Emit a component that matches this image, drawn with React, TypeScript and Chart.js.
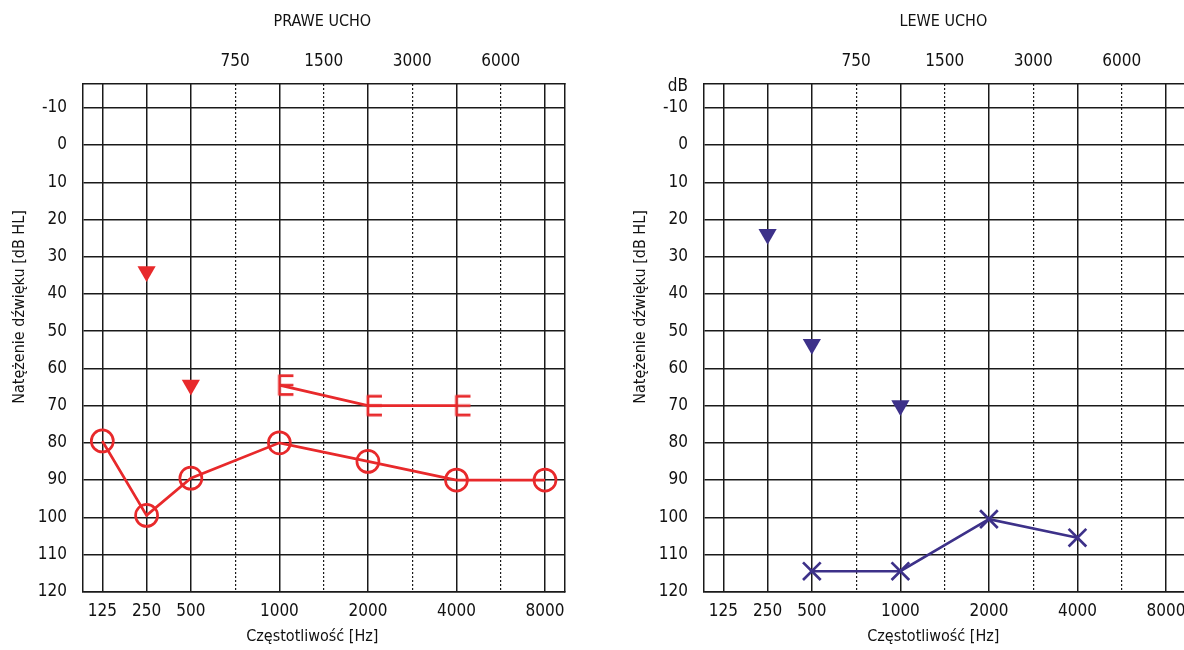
import React, { useEffect, useRef } from 'react';
import { Chart, registerables } from 'chart.js';

Chart.register(...registerables);

const FONT = '"Liberation Sans Narrow", "DejaVu Sans Condensed", "Roboto Condensed", "Liberation Sans", sans-serif';
Chart.defaults.font.family = FONT;
Chart.defaults.color = '#111';

// Frequency axis (evenly spaced positions)
const FREQS = [125, 250, 500, 750, 1000, 1500, 2000, 3000, 4000, 6000, 8000];
const BOTTOM_LABELS = [125, 250, 500, 1000, 2000, 4000, 8000];
const TOP_LABELS = [750, 1500, 3000, 6000];
const DB_TICKS = [-10, 0, 10, 20, 30, 40, 50, 60, 70, 80, 90, 100, 110, 120];

// Right ear (PRAWE UCHO)
const R_AIR_FREQ = [125, 250, 500, 1000, 2000, 4000, 8000];
const R_AIR_DB = [79.5, 99.5, 89.5, 80, 85, 90, 90];
const R_MASK_FREQ = [1000, 2000, 4000];
const R_MASK_DB = [64.5, 70, 70];
const R_BONE_FREQ = [250, 500];
const R_BONE_DB = [34, 64.5];

// Left ear (LEWE UCHO)
const L_AIR_FREQ = [500, 1000, 2000, 4000];
const L_AIR_DB = [114.5, 114.5, 100.5, 105.5];
const L_BONE_FREQ = [250, 500, 1000];
const L_BONE_DB = [24, 53.5, 70];

const RED = '#e8292b';
const BLUE = '#3d3189';
const GRID = '#1a1a1a';

const CANVAS_W = 600;
const CANVAS_H = 650;
const PLOT_LEFT = 82.7;
const PLOT_RIGHT = 565;
const PLOT_TOP = 84;
const PLOT_BOTTOM = 591.7;
const X_MIN = -0.443;
const X_MAX = 10.452;
const Y_MIN = -16.4;
const Y_MAX = 120;

const pts = (freqs: number[], vals: number[]) =>
  freqs.map((f, i) => ({ x: FREQS.indexOf(f), y: vals[i] }));

function makeBracket(color: string) {
  const c = document.createElement('canvas');
  const w = 34, h = 24;
  c.width = w; c.height = h;
  const g = c.getContext('2d')!;
  g.strokeStyle = color;
  g.lineWidth = 2.7;
  const x0 = w / 2, top = h / 2 - 9.3, bot = h / 2 + 9.3, len = 14;
  g.beginPath();
  g.moveTo(x0, top - 1.3); g.lineTo(x0, bot + 1.3);
  g.moveTo(x0, top); g.lineTo(x0 + len, top);
  g.moveTo(x0, h / 2); g.lineTo(x0 + len, h / 2);
  g.moveTo(x0, bot); g.lineTo(x0 + len, bot);
  g.stroke();
  return c;
}

const textPlugin = {
  id: 'audioText',
  afterDraw(chart: any, _args: any, opts: any) {
    const { ctx, chartArea } = chart;
    ctx.save();
    ctx.fillStyle = '#111';
    ctx.textAlign = 'center';
    ctx.textBaseline = 'middle';
    ctx.font = `16px ${FONT}`;
    const cx = (chartArea.left + chartArea.right) / 2;
    ctx.fillText(opts.title, cx - 1.5, 22);
    ctx.fillText(opts.xTitle, cx - 11.5, 637);
    ctx.save();
    ctx.translate(20, 307);
    ctx.rotate(-Math.PI / 2);
    ctx.fillText(opts.yTitle, 0, 0);
    ctx.restore();
    if (opts.unit) {
      ctx.textAlign = 'right';
      ctx.font = `17px ${FONT}`;
      ctx.fillText(opts.unit, chartArea.left - 15.7, 87);
    }
    ctx.restore();
  },
};

const isDotted = (ctx: any) =>
  ctx && ctx.tick && TOP_LABELS.includes(FREQS[ctx.tick.value]);

function buildConfig(title: string, datasets: any[], unit: string) {
  const border = {
    display: true,
    color: GRID,
    width: 1.5,
    dash: (ctx: any) => (isDotted(ctx) ? [2, 2] : []),
  };
  return {
    type: 'line' as const,
    data: { datasets },
    plugins: [textPlugin],
    options: {
      responsive: false,
      animation: false as const,
      devicePixelRatio: 1,
      layout: { padding: 0 },
      plugins: {
        legend: { display: false },
        tooltip: { enabled: false },
        audioText: {
          title,
          xTitle: 'Częstotliwość [Hz]',
          yTitle: 'Natężenie dźwięku [dB HL]',
          unit,
        },
      },
      scales: {
        x: {
          type: 'linear',
          position: 'bottom',
          min: X_MIN,
          max: X_MAX,
          afterBuildTicks: (s: any) => { s.ticks = FREQS.map((_, i) => ({ value: i })); },
          afterFit: (s: any) => { s.height = CANVAS_H - PLOT_BOTTOM; },
          ticks: {
            autoSkip: false,
            maxRotation: 0,
            padding: 10,
            font: { size: 17 },
            color: '#111',
            callback: (v: any) => {
              const f = FREQS[Math.round(v)];
              return BOTTOM_LABELS.includes(f) ? String(f) : '';
            },
          },
          grid: {
            drawTicks: false,
            color: GRID,
            lineWidth: (ctx: any) => (isDotted(ctx) ? 1.2 : 1.5),
          },
          border,
        },
        x2: {
          type: 'linear',
          position: 'top',
          min: X_MIN,
          max: X_MAX,
          afterBuildTicks: (s: any) => { s.ticks = TOP_LABELS.map((f) => ({ value: FREQS.indexOf(f) })); },
          afterFit: (s: any) => { s.height = PLOT_TOP; },
          ticks: {
            autoSkip: false,
            maxRotation: 0,
            padding: 12,
            font: { size: 17 },
            color: '#111',
            callback: (v: any) => String(FREQS[Math.round(v)]),
          },
          grid: { drawOnChartArea: false, drawTicks: false, color: GRID, lineWidth: 1.5 },
          border: { display: true, color: GRID, width: 1.5 },
        },
        y: {
          type: 'linear',
          position: 'left',
          reverse: true,
          min: Y_MIN,
          max: Y_MAX,
          afterBuildTicks: (s: any) => { s.ticks = DB_TICKS.map((v) => ({ value: v })); },
          afterFit: (s: any) => { s.width = PLOT_LEFT; },
          ticks: { padding: 15.7, font: { size: 17 }, color: '#111', autoSkip: false },
          grid: { drawTicks: false, color: GRID, lineWidth: 1.5 },
          border: { display: true, color: GRID, width: 1.5 },
        },
        y2: {
          type: 'linear',
          position: 'right',
          reverse: true,
          min: Y_MIN,
          max: Y_MAX,
          afterBuildTicks: (s: any) => { s.ticks = DB_TICKS.map((v) => ({ value: v })); },
          afterFit: (s: any) => { s.width = CANVAS_W - PLOT_RIGHT; },
          ticks: { display: false },
          grid: { drawOnChartArea: false, drawTicks: false, color: GRID, lineWidth: 1.5 },
          border: { display: true, color: GRID, width: 1.5 },
        },
      },
    },
  };
}

function rightEarDatasets() {
  return [
    {
      data: pts(R_AIR_FREQ, R_AIR_DB),
      xAxisID: 'x', yAxisID: 'y',
      borderColor: RED, borderWidth: 2.7, tension: 0,
      pointStyle: 'circle', pointRadius: 11, pointBorderWidth: 2.7,
      pointBorderColor: RED, pointBackgroundColor: 'rgba(0,0,0,0)',
    },
    {
      data: pts(R_MASK_FREQ, R_MASK_DB),
      xAxisID: 'x', yAxisID: 'y',
      borderColor: RED, borderWidth: 2.7, tension: 0,
      pointStyle: makeBracket(RED), pointRadius: 12,
    },
    {
      data: pts(R_BONE_FREQ, R_BONE_DB),
      xAxisID: 'x', yAxisID: 'y',
      showLine: false,
      pointStyle: 'triangle', pointRotation: 180, pointRadius: 10.5,
      pointBorderWidth: 0, pointBackgroundColor: RED, pointBorderColor: RED,
    },
  ];
}

function leftEarDatasets() {
  return [
    {
      data: pts(L_AIR_FREQ, L_AIR_DB),
      xAxisID: 'x', yAxisID: 'y',
      borderColor: BLUE, borderWidth: 2.7, tension: 0,
      pointStyle: 'crossRot', pointRadius: 12.5, pointBorderWidth: 2.7,
      pointBorderColor: BLUE, pointBackgroundColor: BLUE,
    },
    {
      data: pts(L_BONE_FREQ, L_BONE_DB),
      xAxisID: 'x', yAxisID: 'y',
      showLine: false,
      pointStyle: 'triangle', pointRotation: 180, pointRadius: 10.5,
      pointBorderWidth: 0, pointBackgroundColor: BLUE, pointBorderColor: BLUE,
    },
  ];
}

function Audiogram({ left, title, which, unit }: { left: number; title: string; which: 'R' | 'L'; unit: string }) {
  const ref = useRef<HTMLCanvasElement | null>(null);
  useEffect(() => {
    if (!ref.current) return;
    const ds = which === 'R' ? rightEarDatasets() : leftEarDatasets();
    const chart = new Chart(ref.current, buildConfig(title, ds, unit) as any);
    return () => chart.destroy();
  }, [title, which, unit]);
  return (
    <canvas
      ref={ref}
      width={CANVAS_W}
      height={CANVAS_H}
      style={{ position: 'absolute', left, top: 0, width: CANVAS_W, height: CANVAS_H }}
    />
  );
}

export default function App() {
  return (
    <div style={{ position: 'fixed', left: 0, top: 0, width: 1184, height: 650, overflow: 'hidden', background: '#fff' }}>
      <Audiogram left={0} title="PRAWE UCHO" which="R" unit="" />
      <Audiogram left={621} title="LEWE UCHO" which="L" unit="dB" />
    </div>
  );
}
